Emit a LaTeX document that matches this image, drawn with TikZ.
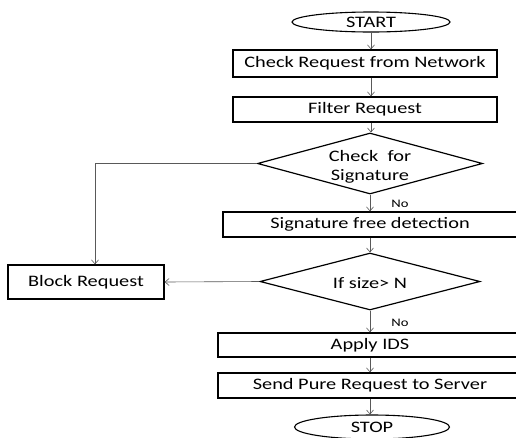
\documentclass[tikz,border=0pt]{standalone}
\usepackage{fontspec}
\setmainfont{Carlito}[FakeStretch=1.27]
\usetikzlibrary{shapes.geometric,arrows.meta}
\begin{document}
\begin{tikzpicture}[x=1pt,y=-1pt,
 txt/.style={font=\fontsize{16}{19}\selectfont},
 box/.style={txt,draw=black,line width=1.3pt,rectangle,inner sep=0pt},
 term/.style={txt,draw=black,line width=1.1pt,ellipse,inner sep=0pt},
 dec/.style={draw=black,line width=1.2pt,diamond,inner sep=0pt},
 lbl/.style={txt,align=center,inner sep=0pt},
 flow/.style={draw=black!65,line width=0.6pt,-{Straight Barb[length=4pt,width=7pt]}},
 nolbl/.style={font=\fontsize{11.5}{13}\selectfont,inner sep=0pt}
]
\useasboundingbox (0,0) rectangle (516,437);
\clip (0,0) rectangle (516,437);
\coordinate (spine) at (371,0);
\coordinate (xline) at (95,0);
\node[term,minimum width=158,minimum height=20] (start) at (371,22) {START};
\node[box,minimum width=264,minimum height=27] (check) at (365,63.5) {Check Request from Network};
\node[box,minimum width=264,minimum height=25] (filter) at (365,109.5) {Filter Request};
\node[dec,minimum width=225,minimum height=61] (d1) at (370,163.5) {};
\node[lbl] (d1t) at (370,167) {Check\ \ for\\Signature};
\node[box,minimum width=294,minimum height=25] (sig) at (370,224.5) {Signature free detection};
\node[dec,minimum width=220,minimum height=57] (d2) at (370,281.5) {};
\node[lbl] (d2t) at (370,283) {If size> N};
\node[box,minimum width=156,minimum height=34] (block) at (86,282) {Block Request};
\node[box,minimum width=304,minimum height=24] (apply) at (370,345) {Apply IDS};
\node[box,minimum width=304,minimum height=25] (send) at (370,385.5) {Send Pure Request to Server};
\node[term,minimum width=155,minimum height=24] (stop) at (372,427) {STOP};
\node[nolbl] (no1) at (400,204) {No};
\node[nolbl] (no2) at (400,323) {No};
\draw[flow] (start.south -| spine) -- (check.north -| spine);
\draw[flow] (check.south -| spine) -- (filter.north -| spine);
\draw[flow] (filter.south -| spine) -- (d1.north -| spine);
\draw[flow] (d1.south) -- (sig.north);
\draw[flow] (sig.south) -- (d2.north);
\draw[flow] (d2.south) -- (apply.north);
\draw[flow] (apply.south) -- (send.north);
\draw[flow] (send.south) -- (stop.north -| send.south);
\draw[flow] (d1.west) -| (block.north -| xline);
\draw[flow] (d2.west) -- (block.east);
\end{tikzpicture}
\end{document}
